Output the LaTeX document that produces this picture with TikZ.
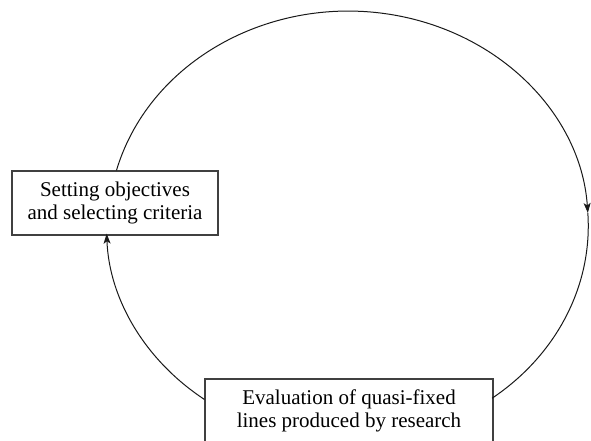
\documentclass[tikz,border=0pt]{standalone}
\usepackage{fontspec}
\setmainfont{Liberation Serif}
\usetikzlibrary{arrows.meta}
\begin{document}
\begin{tikzpicture}[x=1pt,y=1pt,
  box/.style={draw=black!75, line width=1.1pt, fill=white, align=center, inner sep=0pt,
    font=\fontsize{21}{23.5}\selectfont},
  conn/.style={line width=1pt, draw=black!90},
  tip/.style={-{Stealth[length=10pt,width=7pt,inset=2.5pt]}}]
\useasboundingbox (0,0) rectangle (591,-440);
\clip (0,0) rectangle (591,-440);
\node[box, minimum width=206pt, minimum height=64pt] (lbox) at (115,-203) {Setting objectives\\and selecting criteria};
\node[box, minimum width=288pt, minimum height=64pt] (bbox) at (349,-411) {Evaluation of quasi-fixed\\lines produced by research};
% upper arc: from left box over the top, down the right side to the bottom box
\draw[conn, tip] ([xshift=105pt]lbox.north west) arc[start angle=165, end angle=3.5, x radius=240pt, y radius=215pt] coordinate (m);
\draw[conn] (m) arc[start angle=3.5, end angle=-53.2, x radius=240pt, y radius=215pt];
% lower-left arc: from bottom box back up to the left box
\draw[conn, tip] ([yshift=-21pt]bbox.north west) arc[start angle=233.7, end angle=182, x radius=240pt, y radius=215pt];
\end{tikzpicture}
\end{document}
